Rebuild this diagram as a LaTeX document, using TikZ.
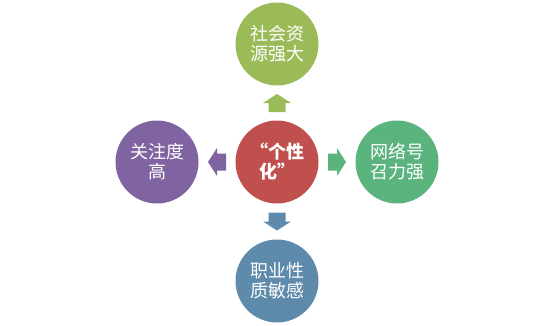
\documentclass[tikz,border=0pt]{standalone}
\usepackage{fontspec}
\newfontfamily\cjk{Noto Sans CJK SC}
\usetikzlibrary{calc}
\tikzset{
  blob/.style={circle,minimum size=83pt,inner sep=0pt,text=white,align=center,
    font=\cjk\fontsize{18}{20}\selectfont}
}
\newcommand{\blockarrow}[3]{%
  \fill[#1,shift={(#2)},rotate=#3] (-9,-8.5)--(0,-8.5)--(0,-14)--(9,0)--(0,14)--(0,8.5)--(-9,8.5)--cycle;}
\begin{document}
\begin{tikzpicture}[x=1pt,y=1pt]
\definecolor{hub}{RGB}{192,80,77}
\definecolor{upc}{RGB}{155,187,89}
\definecolor{rtc}{RGB}{91,179,125}
\definecolor{dnc}{RGB}{94,139,171}
\definecolor{ltc}{RGB}{128,100,162}
\useasboundingbox (0,0) rectangle (554,325);
\node[blob,fill=hub,font=\cjk\bfseries\fontsize{18}{20}\selectfont] (cen) at (277,163) {“个性\\化”};
\node[blob,fill=upc] (top) at (277,281) {社会资\\源强大};
\node[blob,fill=rtc] (rgt) at (397,163) {网络号\\召力强};
\node[blob,fill=dnc] (bot) at (277,44) {职业性\\质敏感};
\node[blob,fill=ltc] (lft) at (157,163) {关注度\\高};
% arrows half way out
\blockarrow{upc}{$(cen)!0.5!(top)$}{90}
\blockarrow{rtc}{$(cen)!0.5!(rgt)$}{0}
\blockarrow{dnc}{$(cen)!0.5!(bot)$}{-90}
\blockarrow{ltc}{$(cen)!0.5!(lft)$}{180}
\end{tikzpicture}
\end{document}
